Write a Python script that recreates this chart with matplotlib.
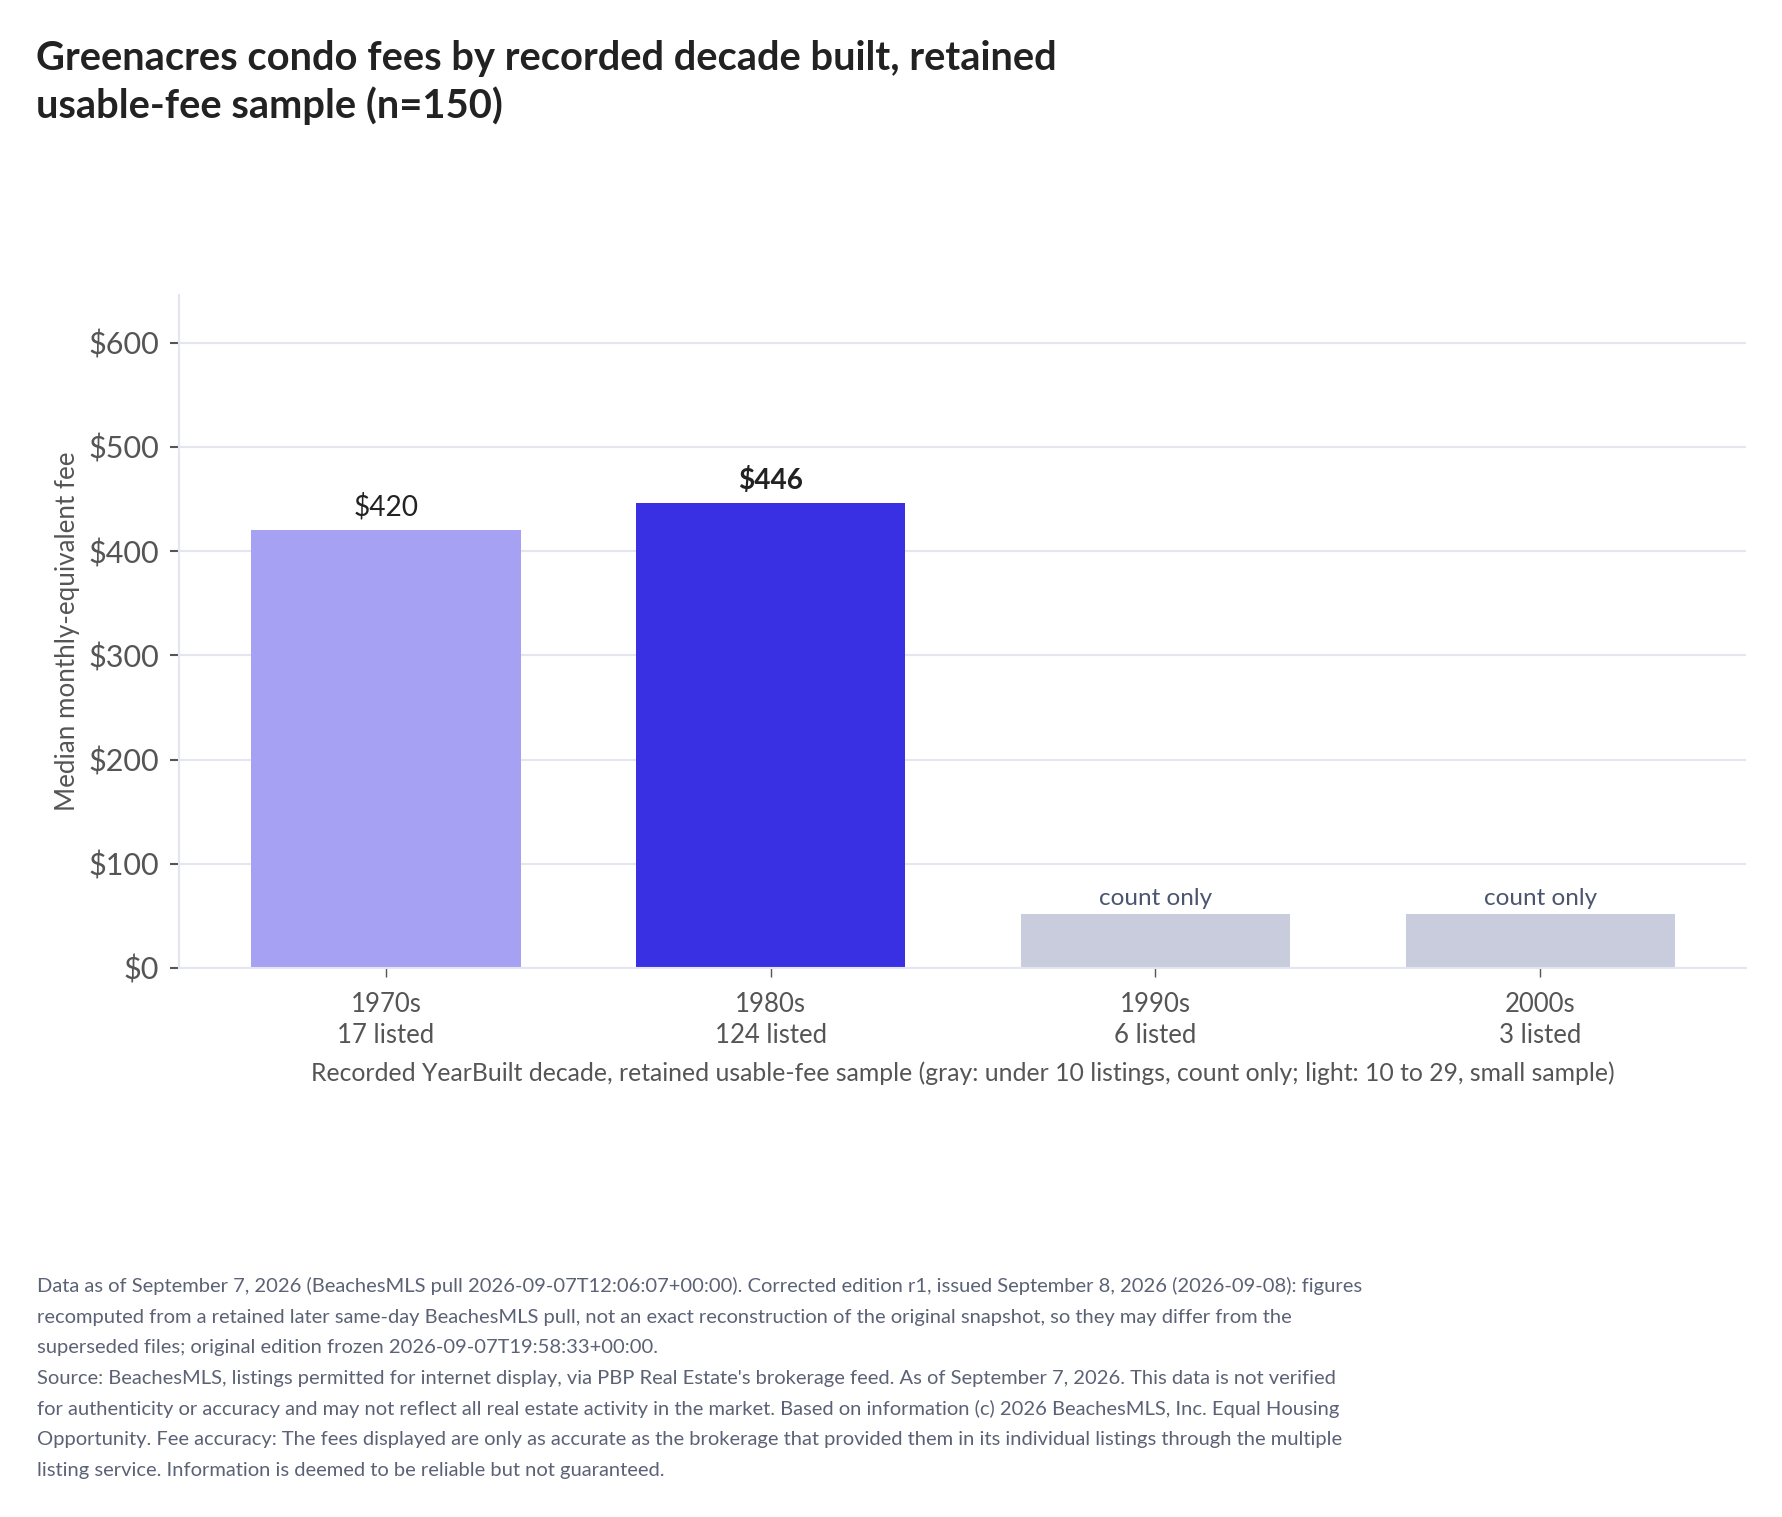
import matplotlib
matplotlib.use("Agg")
import matplotlib.pyplot as plt
from matplotlib.ticker import FuncFormatter

plt.rcParams["font.family"] = ["Lato", "DejaVu Sans"]

decades = ["1970s", "1980s", "1990s", "2000s"]
listed = [17, 124, 6, 3]
median_fee = [420, 446, 52, 52]
bar_kind = ["light", "full", "count", "count"]

title = "Greenacres condo fees by recorded decade built, retained\nusable-fee sample (n=150)"
ylabel = "Median monthly-equivalent fee"
xlabel = ("Recorded YearBuilt decade, retained usable-fee sample (gray: under 10 listings, "
          "count only; light: 10 to 29, small sample)")
footer = [
    "Data as of September 7, 2026 (BeachesMLS pull 2026-09-07T12:06:07+00:00). Corrected edition r1, issued September 8, 2026 (2026-09-08): figures",
    "recomputed from a retained later same-day BeachesMLS pull, not an exact reconstruction of the original snapshot, so they may differ from the",
    "superseded files; original edition frozen 2026-09-07T19:58:33+00:00.",
    "Source: BeachesMLS, listings permitted for internet display, via PBP Real Estate's brokerage feed. As of September 7, 2026. This data is not verified",
    "for authenticity or accuracy and may not reflect all real estate activity in the market. Based on information (c) 2026 BeachesMLS, Inc. Equal Housing",
    "Opportunity. Fee accuracy: The fees displayed are only as accurate as the brokerage that provided them in its individual listings through the multiple",
    "listing service. Information is deemed to be reliable but not guaranteed.",
]

colors = {"light": "#a6a1f3", "full": "#3a30e3", "count": "#c9ccdc"}
grid_c = "#e3e5f0"

fig = plt.figure(figsize=(17.82, 15.17), dpi=100)
ax = fig.add_axes([0.1007, 0.3619, 0.8791, 0.4438])

x = list(range(len(decades)))
ax.bar(x, median_fee, width=0.70, color=[colors[k] for k in bar_kind], zorder=2)

for xi, v, k in zip(x, median_fee, bar_kind):
    if k == "count":
        ax.annotate("count only", (xi, v), xytext=(0, 6.5), textcoords="offset points",
                    ha="center", va="baseline", fontsize=17.5, color="#4b5470")
    else:
        ax.annotate(f"${v}", (xi, v), xytext=(0, 10.5), textcoords="offset points",
                    ha="center", va="baseline", fontsize=20.2, color="#222222",
                    fontweight="bold" if k == "full" else "normal")

ax.set_xlim(-0.537, 3.535)
ax.set_ylim(0, 646)
ax.set_yticks(range(0, 601, 100))
ax.yaxis.set_major_formatter(FuncFormatter(lambda v, p: f"${v:.0f}"))
ax.set_xticks(x)
ax.set_xticklabels([f"{d}\n{n} listed" for d, n in zip(decades, listed)],
                   linespacing=1.26)

ax.grid(axis="y", color=grid_c, linewidth=1.5, zorder=0)
ax.set_axisbelow(True)
for s in ["top", "right"]:
    ax.spines[s].set_visible(False)
for s in ["left", "bottom"]:
    ax.spines[s].set_color(grid_c)
    ax.spines[s].set_linewidth(1.5)

ax.tick_params(axis="y", length=6.5, width=1.5, color="#555555", pad=8,
               labelsize=22, labelcolor="#555555")
ax.tick_params(axis="x", length=6.5, width=1.0, color="#555555", pad=11,
               labelsize=18.5, labelcolor="#555555")

ax.set_ylabel(ylabel, fontsize=18.7, color="#555555", labelpad=6.5)
ax.set_xlabel(xlabel, fontsize=17.8, color="#555555", labelpad=9.8)

fig.text(0.0202, 0.9735, title, fontsize=28.7, fontweight="bold", color="#222222",
         ha="left", va="top", linespacing=1.3)

# footer lines on an even baseline grid
for i, line in enumerate(footer):
    fig.text(0.0205, 0.1483 - i * 0.02023, line, fontsize=14.5, color="#5b6275",
             ha="left", va="baseline")

fig.savefig("out.png", dpi=100, facecolor="white")
